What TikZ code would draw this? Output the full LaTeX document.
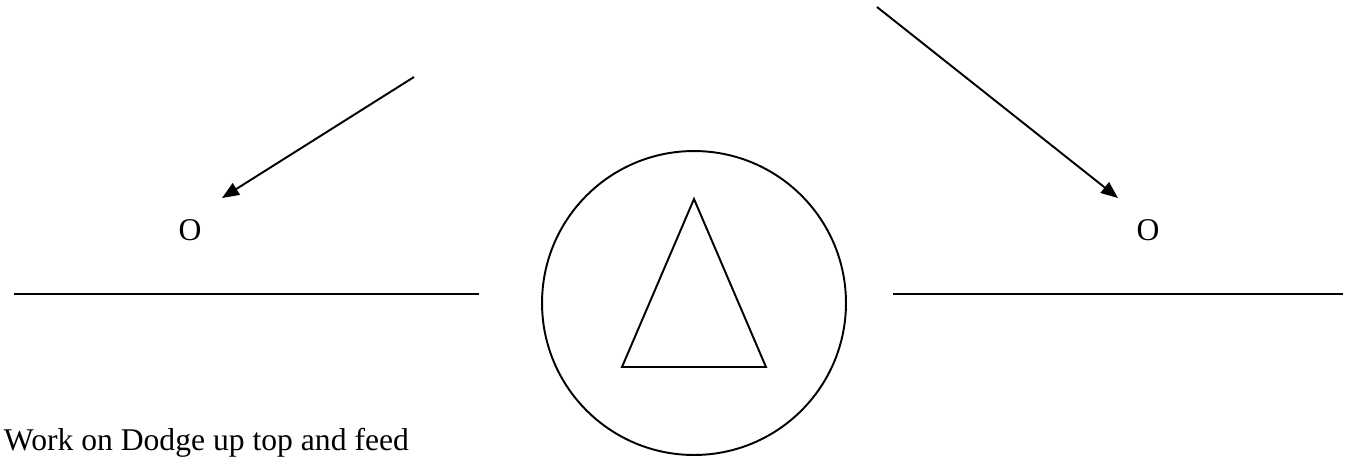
\documentclass[tikz,border=0pt]{standalone}
\usepackage{fontspec}
\setmainfont{Liberation Serif}
\usetikzlibrary{arrows.meta}

\begin{document}
\begin{tikzpicture}[
    x=0.02cm, y=-0.02cm,
    line width=1.1pt,
    arrow/.style={-{Triangle[length=0.34cm, width=0.27cm]}, line width=1.1pt},
    letter/.style={font=\fontsize{18}{21}\selectfont, inner sep=0pt},
    ring/.style={draw, circle, minimum size=6.08cm, inner sep=0pt},
    every node/.style={font=\fontsize{18}{21}\selectfont}
]
\useasboundingbox (0,0) rectangle (1355,457);

% The two marks
\node[letter] (oleft) at (190, 230) {O};
\node[letter] (oright) at (1148, 230) {O};

% Arrows towards the marks
\coordinate (aleft) at (414, 77);
\coordinate (aright) at (877, 7);
\coordinate (tleft) at (222, 198);
\coordinate (tright) at (1118, 198);
\draw[arrow] (aleft) -- (tleft);
\draw[arrow] (aright) -- (tright);

% Horizontal lines
\coordinate (l1) at (14, 294);
\coordinate (l2) at (479, 294);
\coordinate (r1) at (893, 294);
\coordinate (r2) at (1343, 294);
\draw (l1) -- (l2);
\draw (r1) -- (r2);

% Center circle with triangle
\node[ring] (ball) at (694, 303) {};
\coordinate (apex) at (694, 199);
\coordinate (bl) at (622, 367);
\coordinate (br) at (766, 367);
\draw (apex) -- (bl) -- (br) -- cycle;

% Caption
\node[anchor=base west, inner sep=0pt] (note) at (3, 450) {Work on Dodge up top and feed};

\end{tikzpicture}
\end{document}
